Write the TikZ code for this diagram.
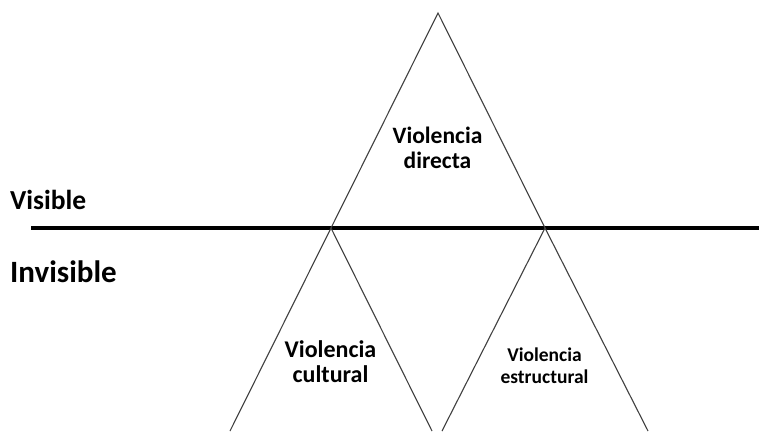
\documentclass[tikz,border=0pt]{standalone}
\usepackage{fontspec}
\setmainfont{Carlito}
\begin{document}
\begin{tikzpicture}[x=1pt,y=-1pt,
  edge/.style={draw=black!75,line width=1.1pt},
  divider/.style={draw=black,line width=3.6pt},
  label/.style={anchor=base west,inner sep=0pt},
  tri/.style={align=center,inner sep=0pt,anchor=base}]
\useasboundingbox (0,0) rectangle (759,431);
\begin{scope}
\clip (0,0) rectangle (759,431);
% corners of the three triangles
\coordinate (top) at (438,13);
\coordinate (lt) at (331,228);
\coordinate (rt) at (545,228);
\coordinate (lbl) at (230,431);
\coordinate (lbr) at (432,431);
\coordinate (rbl) at (442,431);
\coordinate (rbr) at (648,431);
\coordinate (lineL) at (31,228);
\coordinate (lineR) at (759,228);
% visible / invisible divider
\draw[divider] (lineL) -- (lineR);
% upper triangle
\draw[edge] (lt) -- (top) -- (rt);
% lower triangles
\draw[edge] (lbl) -- (lt) -- (lbr);
\draw[edge] (rbl) -- (rt) -- (rbr);
\end{scope}
\node[label,font=\bfseries\fontsize{27.5}{30}\selectfont] (vis) at (10,209) {Visible};
\node[label,font=\bfseries\fontsize{31}{34}\selectfont] (invis) at (10,282) {Invisible};
\node[tri,font=\bfseries\fontsize{23.5}{25}\selectfont] (directa) at (437.5,168) {Violencia\\directa};
\node[tri,font=\bfseries\fontsize{24}{25}\selectfont] (cultural) at (330.5,382) {Violencia\\cultural};
\node[tri,font=\bfseries\fontsize{19.5}{22}\selectfont] (estructural) at (544.5,383) {Violencia\\estructural};
\end{tikzpicture}
\end{document}
